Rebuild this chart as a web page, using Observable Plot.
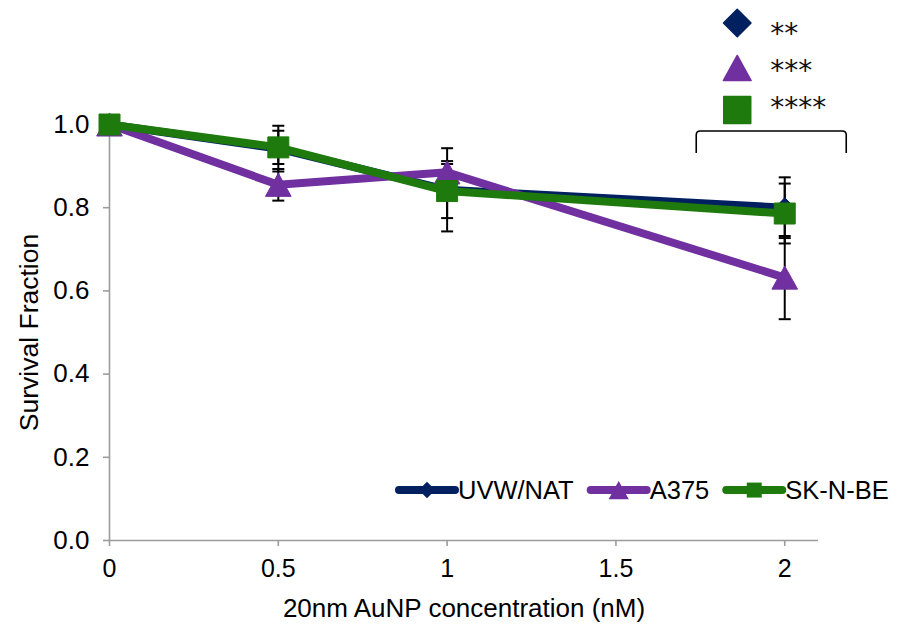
<!DOCTYPE html>
<html>
<head>
<meta charset="utf-8">
<script src="https://cdn.jsdelivr.net/npm/d3@7"></script>
<script src="https://cdn.jsdelivr.net/npm/@observablehq/plot@0.6"></script>
<style>
  body { margin: 0; background: #fff; }
  #chart { width: 898px; height: 625px; }
</style>
</head>
<body>
<div id="chart"></div>
<script>
// AuNP concentration (nM) on the x axis
const concentrations = [0, 0.5, 1, 2];

// Cell lines, drawn in this order
const seriesNames = ["UVW/NAT", "A375", "SK-N-BE"];
const seriesColors = ["#002060", "#7030a0", "#1e7a0c"];
const seriesSymbols = ["diamond", "triangle", "square"];

// Mean survival fraction and error per concentration
const uvwMean   = [1.000, 0.942, 0.843, 0.800];
const uvwErr    = [0,     0.055, 0.100, 0.073];
const a375Mean  = [1.000, 0.855, 0.885, 0.632];
const a375Err   = [0,     0.038, 0.027, 0.100];
const sknbeMean = [1.000, 0.945, 0.840, 0.786];
const sknbeErr  = [0,     0.040, 0.065, 0.072];

// Significance at the highest concentration
const significance = ["**", "***", "****"];

const xTicks = [0, 0.5, 1, 1.5, 2];
const yTicks = [0, 0.2, 0.4, 0.6, 0.8, 1.0];

const means = [uvwMean, a375Mean, sknbeMean];
const errs = [uvwErr, a375Err, sknbeErr];

const rows = seriesNames.flatMap((name, s) =>
  concentrations.map((c, i) => ({
    series: name,
    conc: c,
    mean: means[s][i],
    lo: means[s][i] - errs[s][i],
    hi: means[s][i] + errs[s][i],
    err: errs[s][i]
  }))
);
const errRows = rows.filter(d => d.err > 0);

// Marker shapes centred on their bounding box (size is area-like, as d3 symbols)
const shapes = {
  diamond: { draw(ctx, size) { const h = Math.sqrt(size / Math.PI) * 1.1;
    ctx.moveTo(0, -h); ctx.lineTo(h, 0); ctx.lineTo(0, h); ctx.lineTo(-h, 0); ctx.closePath(); } },
  triangle: { draw(ctx, size) { const w = Math.sqrt(size / Math.PI) * 1.35, hh = w * 0.9;
    ctx.moveTo(0, -hh); ctx.lineTo(w, hh); ctx.lineTo(-w, hh); ctx.closePath(); } },
  square: { draw(ctx, size) { const h = Math.sqrt(size / Math.PI);
    ctx.moveTo(-h, -h); ctx.lineTo(h, -h); ctx.lineTo(h, h); ctx.lineTo(-h, h); ctx.closePath(); } }
};
const cap = { draw(ctx, size) { const h = Math.sqrt(size / Math.PI);
  ctx.moveTo(-h, 0); ctx.lineTo(h, 0); } };
const markerR = { diamond: 9, triangle: 9.5, square: 10.5 };

const axisGray = "#9c9c9c";
const font = "'Liberation Sans', Arial, sans-serif";

const seriesMarks = seriesNames.flatMap((name, s) => {
  const data = rows.filter(d => d.series === name);
  return [
    Plot.line(data, {x: "conc", y: "mean", stroke: seriesColors[s], strokeWidth: 8,
      strokeLinejoin: "round", strokeLinecap: "round"}),
    Plot.dot(data, {x: "conc", y: "mean", symbol: shapes[seriesSymbols[s]], r: markerR[seriesSymbols[s]],
      fill: seriesColors[s], stroke: seriesColors[s], strokeWidth: 1})
  ];
});

const chart = Plot.plot({
  width: 898,
  height: 625,
  marginLeft: 109,
  marginRight: 80,
  marginTop: 124,
  marginBottom: 85,
  x: {domain: [0, 2.1], axis: null},
  y: {domain: [0, 1], axis: null},
  style: {fontFamily: font, background: "white", color: "black"},
  marks: [
    Plot.ruleY([0], {stroke: axisGray, strokeWidth: 1.6}),
    Plot.ruleX([0], {stroke: axisGray, strokeWidth: 1.6}),
    Plot.axisX(xTicks, {tickSize: 6, tickPadding: 13, fontSize: 25, stroke: axisGray, strokeWidth: 1.6,
      fill: "black", label: null, tickFormat: d => String(d)}),
    Plot.axisY(yTicks, {tickSize: 6, tickPadding: 14, fontSize: 26, stroke: axisGray, strokeWidth: 1.6,
      fill: "black", label: null, tickFormat: d3.format(".1f")}),
    Plot.text(["20nm AuNP concentration (nM)"], {frameAnchor: "bottom", dy: 68, fontSize: 26, fill: "black",
      textAnchor: "middle", lineAnchor: "middle"}),
    Plot.text(["Survival Fraction"], {frameAnchor: "left", dx: -80, rotate: -90, fontSize: 26.5, fill: "black",
      textAnchor: "middle", lineAnchor: "middle"}),
    // error bars sit beneath the lines and markers
    Plot.ruleX(errRows, {x: "conc", y1: "lo", y2: "hi", stroke: "black", strokeWidth: 2}),
    Plot.dot(errRows, {x: "conc", y: "lo", symbol: cap, r: 6, fill: "none", stroke: "black", strokeWidth: 2}),
    Plot.dot(errRows, {x: "conc", y: "hi", symbol: cap, r: 6, fill: "none", stroke: "black", strokeWidth: 2}),
    ...seriesMarks
  ]
});

document.getElementById("chart").appendChild(chart);

// Legend and significance key drawn into the same SVG
const svg = d3.select(chart);
const sx = chart.scale("x");
const sy = chart.scale("y");
const x2 = sx.apply(2);

const shapePath = (kind, r) => { const p = d3.path(); shapes[kind].draw(p, r * r * Math.PI); return p.toString(); };

// series legend along the bottom of the plot
const legend = svg.append("g").attr("font-family", font).attr("font-size", 25.5).attr("text-anchor", "start");
const legendY = sy.apply(0.12);
let lx = 399;
seriesNames.forEach((name, s) => {
  const g = legend.append("g");
  g.append("line").attr("x1", lx).attr("x2", lx + 56).attr("y1", legendY).attr("y2", legendY)
    .attr("stroke", seriesColors[s]).attr("stroke-width", 8).attr("stroke-linecap", "round");
  g.append("path").attr("d", shapePath(seriesSymbols[s], 7.5))
    .attr("transform", `translate(${lx + 28},${legendY})`).attr("fill", seriesColors[s]);
  const t = g.append("text").attr("x", lx + 59).attr("y", legendY).attr("dy", "0.36em")
    .attr("fill", "black").text(name);
  lx += 59 + t.node().getComputedTextLength() + 17;
});

// significance key above the highest concentration
const key = svg.append("g").attr("text-anchor", "start");
const keyX = x2 - 47;
const keySymY = [23, 68, 110];
const keyTextY = [26, 63, 100];
const keyR = { diamond: 12.5, triangle: 10.3, square: 13.5 };
seriesNames.forEach((name, s) => {
  key.append("path").attr("d", shapePath(seriesSymbols[s], keyR[seriesSymbols[s]]))
    .attr("transform", `translate(${keyX},${keySymY[s]})`)
    .attr("fill", seriesColors[s]).attr("stroke", seriesColors[s]).attr("stroke-width", 1.5)
    .attr("stroke-linejoin", "round");
  key.append("text").attr("x", keyX + 33).attr("y", keyTextY[s]).attr("dy", "0.6em")
    .attr("font-family", "'DejaVu Sans', sans-serif").attr("font-size", 28).attr("fill", "#111")
    .text(significance[s]);
});

// bracket spanning the x = 2 points
const bl = x2 - 88, br = x2 + 62, bt = 131, bb = 153;
key.append("path")
  .attr("d", `M${bl},${bb} L${bl},${bt + 4} Q${bl},${bt} ${bl + 4},${bt} L${br - 4},${bt} Q${br},${bt} ${br},${bt + 4} L${br},${bb}`)
  .attr("fill", "none").attr("stroke", "black").attr("stroke-width", 1.6);
</script>
</body>
</html>
